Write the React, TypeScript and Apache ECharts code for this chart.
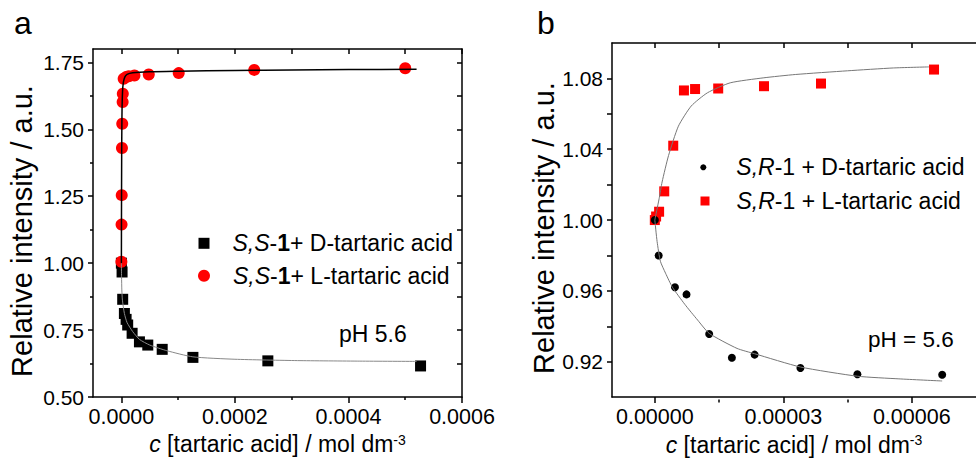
import React, { useEffect, useRef } from "react";
import * as echarts from "echarts";

// ---------- data ----------
// Panel a: S,S-1 + D-tartaric acid (black squares)
const aDX = [0, 0.0000012, 0.0000023, 0.0000053, 0.0000083, 0.0000111, 0.0000189, 0.0000318, 0.0000465, 0.0000719, 0.000126, 0.000258, 0.000527];
const aDY = [1.0, 0.967, 0.865, 0.812, 0.79, 0.769, 0.738, 0.706, 0.694, 0.678, 0.648, 0.635, 0.616];
// Panel a: S,S-1 + L-tartaric acid (red circles)
const aLX = [0, 0.0000003, 0.0000006, 0.000001, 0.0000015, 0.0000022, 0.0000025, 0.000004, 0.000008, 0.000013, 0.000023, 0.0000482, 0.000101, 0.000234, 0.0005];
const aLY = [1.005, 1.144, 1.254, 1.43, 1.521, 1.602, 1.633, 1.689, 1.695, 1.698, 1.701, 1.705, 1.71, 1.722, 1.728];
// Panel a fit curves
const aFitLX = [0, 0.0000002, 0.0000005, 0.000001, 0.000002, 0.0000035, 0.000006, 0.00001, 0.00002, 0.00005, 0.0001, 0.0002, 0.0003, 0.0004, 0.00052];
const aFitLY = [1.0, 1.2, 1.4, 1.55, 1.64, 1.675, 1.695, 1.705, 1.711, 1.715, 1.717, 1.72, 1.722, 1.723, 1.724];
const aFitDX = [0, 0.0000003, 0.0000008, 0.0000018, 0.0000053, 0.00001, 0.00002, 0.000032, 0.00005, 0.00008, 0.000126, 0.0002, 0.00031, 0.00042, 0.00052];
const aFitDY = [1.0, 0.95, 0.9, 0.862, 0.812, 0.778, 0.744, 0.715, 0.694, 0.673, 0.65, 0.641, 0.636, 0.634, 0.633];

// Panel b: S,R-1 + D-tartaric acid (black dots)
const bDX = [0, 0.0000009, 0.0000047, 0.0000074, 0.0000127, 0.000018, 0.0000233, 0.000034, 0.0000473, 0.0000671];
const bDY = [1.0, 0.98, 0.962, 0.958, 0.9356, 0.9222, 0.924, 0.9164, 0.9129, 0.9126];
// Panel b: S,R-1 + L-tartaric acid (red squares)
const bLX = [0, 0.0000003, 0.000001, 0.0000022, 0.0000043, 0.0000068, 0.0000094, 0.0000148, 0.0000255, 0.0000388, 0.0000652];
const bLY = [1.0, 1.002, 1.0047, 1.0162, 1.042, 1.0732, 1.074, 1.0743, 1.0756, 1.0771, 1.085];
// Panel b fit curves
const bFitLX = [0, 0.0000005, 0.000001, 0.0000017, 0.0000032, 0.0000055, 0.0000085, 0.0000123, 0.0000176, 0.0000253, 0.0000328, 0.000045, 0.0000557, 0.000064];
const bFitLY = [1.0, 1.006, 1.012, 1.0215, 1.0364, 1.053, 1.0644, 1.0719, 1.0775, 1.0803, 1.0822, 1.0843, 1.0859, 1.0865];
const bFitDX = [0, 0.00000053, 0.0000013, 0.0000025, 0.0000041, 0.000007, 0.00001, 0.0000127, 0.0000192, 0.0000233, 0.000034, 0.0000473, 0.000057, 0.0000671];
const bFitDY = [1.0, 0.9879, 0.9767, 0.97, 0.9621, 0.9524, 0.9435, 0.936, 0.9275, 0.9245, 0.917, 0.9118, 0.9103, 0.9091];

// tick values
const aXMajor = [0, 0.0002, 0.0004, 0.0006];
const aXMinor = [0.0001, 0.0003, 0.0005];
const aXTop = [0, 0.0001, 0.0002, 0.0003, 0.0004, 0.0005, 0.0006];
const aYMajor = [0.5, 0.75, 1.0, 1.25, 1.5, 1.75];
const aYMinor = [0.625, 0.875, 1.125, 1.375, 1.625];
const aYRight = [0.625, 0.75, 0.875, 1.0, 1.125, 1.25, 1.375, 1.5, 1.625, 1.75];
const bXMajor = [0, 0.00003, 0.00006];
const bXMinor = [0.000015, 0.000045];
const bXTop = [0, 0.000015, 0.00003, 0.000045, 0.00006];
const bYTicks = [0.92, 0.94, 0.96, 0.98, 1.0, 1.02, 1.04, 1.06, 1.08];
const bYLabels = [0.92, 0.96, 1.0, 1.04, 1.08];

const A_D = "S,S-1+ D-tartaric acid";
const A_L = "S,S-1+ L-tartaric acid";
const B_D = "S,R-1 + D-tartaric acid";
const B_L = "S,R-1 + L-tartaric acid";
const legendRich: Record<string, string> = {
  [A_D]: "{i|S,S}-{b|1}+ D-tartaric acid",
  [A_L]: "{i|S,S}-{b|1}+ L-tartaric acid",
  [B_D]: "{i|S,R}-1 + D-tartaric acid",
  [B_L]: "{i|S,R}-1 + L-tartaric acid",
};

const zip = (xs: number[], ys: number[]) => xs.map((x, i) => [x, ys[i]]);

const FONT = "'Liberation Sans', Arial, Helvetica, sans-serif";
const BLACK = "#000";
const RED = "#ff0000";
const line = { color: BLACK, width: 1.5 };

const richText = {
  i: { fontStyle: "italic", fontSize: 23, fontFamily: FONT, color: BLACK },
  b: { fontWeight: "bold", fontSize: 23, fontFamily: FONT, color: BLACK },
  sup: { fontSize: 14, fontFamily: FONT, color: BLACK, verticalAlign: "top" },
};

const xName = "{i|c} [tartaric acid] / mol dm{sup|-3}";
const yName = "Relative intensity / a.u.";

function mainX(grid: number, min: number, max: number, major: number[], digits: number) {
  return {
    type: "value", gridIndex: grid, position: "bottom", min, max,
    axisLine: { show: true, onZero: false, lineStyle: line },
    axisTick: { show: true, inside: false, length: 6, customValues: major, lineStyle: line },
    axisLabel: { show: true, customValues: major, formatter: (v: number) => v.toFixed(digits), fontSize: 21.5, fontFamily: FONT, color: BLACK, margin: 9 },
    splitLine: { show: false },
    name: xName, nameLocation: "middle", nameGap: 23,
    nameTextStyle: { fontSize: 23, fontFamily: FONT, color: BLACK, rich: richText },
  };
}
function topX(grid: number, min: number, max: number, ticks: number[]) {
  return {
    type: "value", gridIndex: grid, position: "top", min, max,
    axisLine: { show: true, onZero: false, lineStyle: line },
    axisTick: { show: true, inside: true, length: 5, customValues: ticks, lineStyle: line },
    axisLabel: { show: false },
    splitLine: { show: false },
  };
}
function minorX(grid: number, min: number, max: number, ticks: number[]) {
  return {
    type: "value", gridIndex: grid, position: "bottom", min, max,
    axisLine: { show: false, onZero: false },
    axisTick: { show: true, inside: false, length: 3, customValues: ticks, lineStyle: line },
    axisLabel: { show: false },
    splitLine: { show: false },
  };
}
function mainY(grid: number, min: number, max: number, ticks: number[], labels: number[], gap: number) {
  return {
    type: "value", gridIndex: grid, position: "left", min, max,
    axisLine: { show: true, onZero: false, lineStyle: line },
    axisTick: { show: true, inside: false, length: 5, customValues: ticks, lineStyle: line },
    axisLabel: { show: true, customValues: labels, formatter: (v: number) => v.toFixed(2), fontSize: 21, fontFamily: FONT, color: BLACK, margin: 9 },
    splitLine: { show: false },
    name: yName, nameLocation: "middle", nameGap: gap,
    nameTextStyle: { fontSize: 29, fontFamily: FONT, color: BLACK, padding: [0, 16, 0, 0] },
  };
}
function sideY(grid: number, min: number, max: number, ticks: number[], pos: string, inside: boolean, len: number, showLine: boolean) {
  return {
    type: "value", gridIndex: grid, position: pos, min, max,
    axisLine: { show: showLine, onZero: false, lineStyle: line },
    axisTick: { show: ticks.length > 0, inside, length: len, customValues: ticks, lineStyle: line },
    axisLabel: { show: false },
    splitLine: { show: false },
  };
}
function legendItem(name: string, left: number, centerY: number, size: number, pad: number) {
  return {
    data: [name], left, top: centerY - 13, orient: "vertical", padding: 0,
    itemWidth: size, itemHeight: size, selectedMode: false,
    formatter: (n: string) => legendRich[n],
    textStyle: { fontSize: 23, fontFamily: FONT, color: BLACK, lineHeight: 26, padding: [0, 0, 0, pad], rich: richText },
  };
}

const gridA = { left: 93, top: 49, right: 514, bottom: 64 };
const gridB = { left: 612, top: 43, right: -9, bottom: 61.5 };

const option: any = {
  animation: false,
  backgroundColor: "#fff",
  grid: [gridA, gridB, gridA, gridB],
  xAxis: [
    mainX(0, -0.00005, 0.0006, aXMajor, 4),
    topX(0, -0.00005, 0.0006, aXTop),
    mainX(1, -0.00001, 0.000075, bXMajor, 5),
    topX(1, -0.00001, 0.000075, bXTop),
    minorX(2, -0.00005, 0.0006, aXMinor),
    minorX(3, -0.00001, 0.000075, bXMinor),
  ],
  yAxis: [
    mainY(0, 0.5, 1.8, aYMajor, aYMajor, 56.5),
    sideY(0, 0.5, 1.8, aYRight, "right", true, 5, true),
    mainY(1, 0.9, 1.1, bYTicks, bYLabels, 52.5),
    sideY(2, 0.5, 1.8, aYMinor, "left", false, 3, false),
    sideY(3, 0.9, 1.1, [], "left", false, 3, false),
  ],
  legend: [
    legendItem(A_D, 198.5, 243.3, 11, 18),
    legendItem(A_L, 198, 275.7, 12, 18),
    legendItem(B_D, 700.3, 167.3, 6, 25),
    legendItem(B_L, 700.5, 201, 9, 22),
  ],
  series: [
    { type: "scatter", name: A_D, xAxisIndex: 0, yAxisIndex: 0, symbol: "rect", symbolSize: 11, itemStyle: { color: BLACK, opacity: 1 }, data: zip(aDX, aDY), z: 2 },
    { type: "scatter", name: A_L, xAxisIndex: 0, yAxisIndex: 0, symbol: "circle", symbolSize: 12, itemStyle: { color: RED, opacity: 1 }, data: zip(aLX, aLY), z: 3 },
    { type: "line", name: "fitAL", xAxisIndex: 0, yAxisIndex: 0, symbol: "none", smooth: 0.2, lineStyle: { color: BLACK, width: 1.5 }, data: zip(aFitLX, aFitLY), z: 4 },
    { type: "line", name: "fitAD", xAxisIndex: 0, yAxisIndex: 0, symbol: "none", smooth: 0.2, lineStyle: { color: "#888", width: 1 }, data: zip(aFitDX, aFitDY), z: 4 },
    { type: "scatter", name: B_D, xAxisIndex: 2, yAxisIndex: 2, symbol: "circle", symbolSize: 8, itemStyle: { color: BLACK, opacity: 1 }, data: zip(bDX, bDY), z: 3 },
    { type: "scatter", name: B_L, xAxisIndex: 2, yAxisIndex: 2, symbol: "rect", symbolSize: 10, itemStyle: { color: RED, opacity: 1 }, data: zip(bLX, bLY), z: 2 },
    { type: "line", name: "fitBL", xAxisIndex: 2, yAxisIndex: 2, symbol: "none", smooth: 0.2, lineStyle: { color: "#777", width: 1 }, data: zip(bFitLX, bFitLY), z: 4 },
    { type: "line", name: "fitBD", xAxisIndex: 2, yAxisIndex: 2, symbol: "none", smooth: 0.2, lineStyle: { color: "#777", width: 1 }, data: zip(bFitDX, bFitDY), z: 4 },
  ],
  graphic: [
    { type: "text", left: 14, top: 7, style: { text: "a", fontSize: 32, fontFamily: FONT, fill: BLACK } },
    { type: "text", left: 537, top: 7, style: { text: "b", fontSize: 32, fontFamily: FONT, fill: BLACK } },
    { type: "text", x: 339, y: 334, style: { text: "pH 5.6", fontSize: 23, fontFamily: FONT, fill: BLACK, verticalAlign: "middle", align: "left" } },
    { type: "text", x: 868, y: 339, style: { text: "pH = 5.6", fontSize: 22.5, fontFamily: FONT, fill: BLACK, verticalAlign: "middle", align: "left" } },
  ],
};

export default function App() {
  const ref = useRef<HTMLDivElement>(null);
  useEffect(() => {
    if (!ref.current) return;
    const chart = echarts.init(ref.current, null, { renderer: "svg", width: 976, height: 461 });
    chart.setOption(option);
    return () => chart.dispose();
  }, []);
  return <div ref={ref} style={{ position: "absolute", left: 0, top: 0, width: 976, height: 461, background: "#fff" }} />;
}
